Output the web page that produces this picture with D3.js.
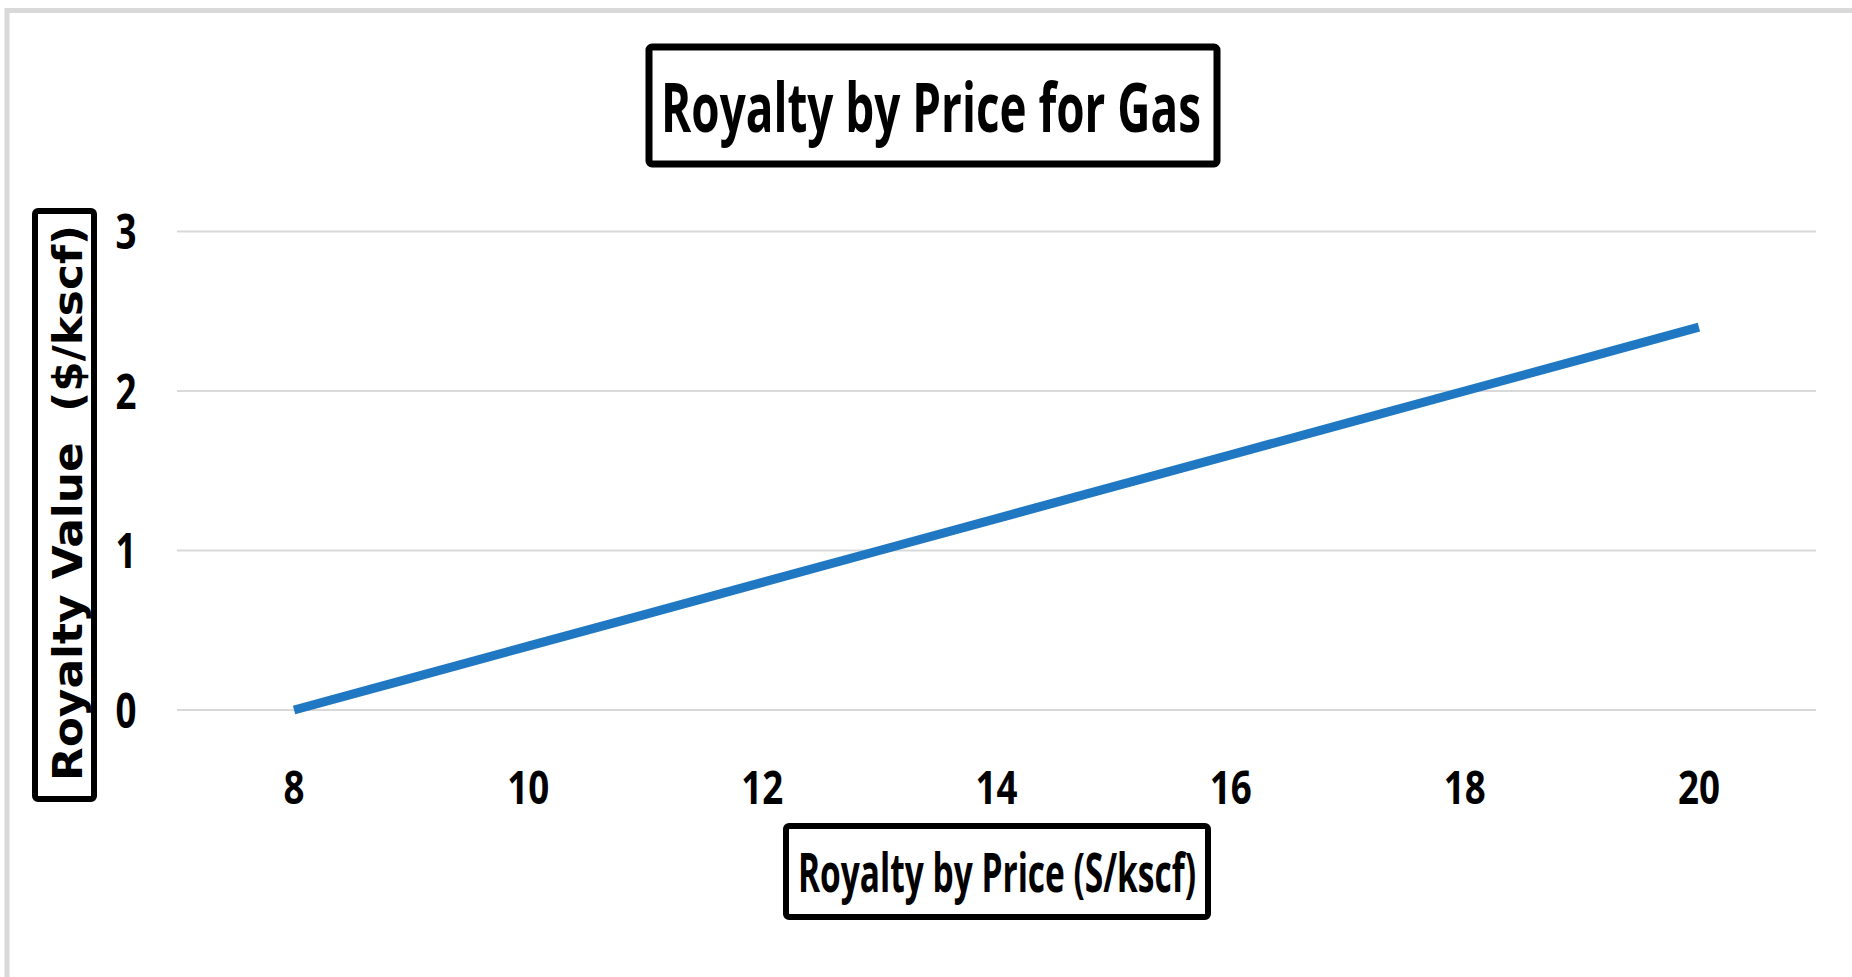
<!DOCTYPE html>
<html>
<head>
<meta charset="utf-8">
<script src="https://cdn.jsdelivr.net/npm/d3@7"></script>
<style>
  html, body { margin: 0; padding: 0; background: #ffffff; }
  svg { display: block; }
</style>
</head>
<body>
<svg id="chart" width="1852" height="977"></svg>
<script>
// ---- data ----
const prices = [8, 9, 10, 11, 12, 13, 14, 15, 16, 17, 18, 19, 20];
const royalty = [0, 0.2, 0.4, 0.6, 0.8, 1.0, 1.2, 1.4, 1.6, 1.8, 2.0, 2.2, 2.4];
const xTicks = [8, 10, 12, 14, 16, 18, 20];
const yTicks = [0, 1, 2, 3];
const titleText = "Royalty by Price for Gas";
const xLabelText = "Royalty by Price (S/kscf)";
const yLabelText = "Royalty Value\u00A0\u00A0($/kscf)";

// ---- layout ----
const W = 1852, H = 977;
const plot = { left: 177, right: 1816, top: 231.5, bottom: 710 };
const svg = d3.select("#chart");
const narrow = "'Liberation Sans Narrow', 'Arial Narrow', 'Open Sans', sans-serif";

// outer frame (top + left edges visible)
svg.append("rect").attr("x", 7).attr("y", 10.5).attr("width", W + 20).attr("height", H + 20)
  .attr("fill", "none").attr("stroke", "#d9d9d9").attr("stroke-width", 5);

const x = d3.scaleLinear().domain([7, 21]).range([plot.left, plot.right]);
const y = d3.scaleLinear().domain([0, 3]).range([plot.bottom, plot.top]);

// gridlines
svg.append("g").selectAll("line").data(yTicks).join("line")
  .attr("x1", plot.left).attr("x2", plot.right)
  .attr("y1", d => y(d)).attr("y2", d => y(d))
  .attr("stroke", "#d9d9d9").attr("stroke-width", 2);

// y tick labels
svg.append("g").selectAll("text").data(yTicks).join("text")
  .attr("x", 126).attr("y", d => y(d) + 17.5)
  .attr("text-anchor", "middle")
  .attr("textLength", d => String(d).length * 21).attr("lengthAdjust", "spacingAndGlyphs")
  .style("font-family", narrow).style("font-weight", "bold").style("font-size", "48px")
  .attr("fill", "#000").text(d => d);

// x tick labels
svg.append("g").selectAll("text").data(xTicks).join("text")
  .attr("x", d => x(d)).attr("y", 804)
  .attr("text-anchor", "middle")
  .attr("textLength", d => String(d).length * 21).attr("lengthAdjust", "spacingAndGlyphs")
  .style("font-family", narrow).style("font-weight", "bold").style("font-size", "47px")
  .attr("fill", "#000").text(d => d);

// line
const line = d3.line().x((d, i) => x(prices[i])).y(d => y(d));
svg.append("path").datum(royalty)
  .attr("d", line)
  .attr("fill", "none").attr("stroke", "#1f78c1").attr("stroke-width", 9)
  .attr("stroke-linecap", "butt");

// title box
svg.append("rect").attr("x", 649).attr("y", 47).attr("width", 568).attr("height", 117)
  .attr("rx", 3).attr("fill", "#fff").attr("stroke", "#000").attr("stroke-width", 7);
svg.append("text").attr("x", 931).attr("y", 132).attr("text-anchor", "middle")
  .attr("textLength", 540).attr("lengthAdjust", "spacingAndGlyphs")
  .style("font-family", narrow).style("font-weight", "bold").style("font-size", "68px")
  .attr("fill", "#000").text(titleText);

// x label box
svg.append("rect").attr("x", 786).attr("y", 826).attr("width", 422).attr("height", 91)
  .attr("rx", 3).attr("fill", "#fff").attr("stroke", "#000").attr("stroke-width", 6);
svg.append("text").attr("x", 997).attr("y", 892).attr("text-anchor", "middle")
  .attr("textLength", 398).attr("lengthAdjust", "spacingAndGlyphs")
  .style("font-family", narrow).style("font-weight", "bold").style("font-size", "53px")
  .attr("fill", "#000").text(xLabelText);

// y label box
svg.append("rect").attr("x", 35).attr("y", 211).attr("width", 59).attr("height", 588)
  .attr("rx", 3).attr("fill", "#fff").attr("stroke", "#000").attr("stroke-width", 6);
svg.append("text")
  .attr("transform", "translate(82,503) rotate(-90)")
  .attr("text-anchor", "middle")
  .attr("textLength", 556).attr("lengthAdjust", "spacingAndGlyphs")
  .style("font-family", "'DejaVu Sans', Verdana, sans-serif").style("font-weight", "bold").style("font-size", "40px")
  .attr("fill", "#000").text(yLabelText);
</script>
</body>
</html>
